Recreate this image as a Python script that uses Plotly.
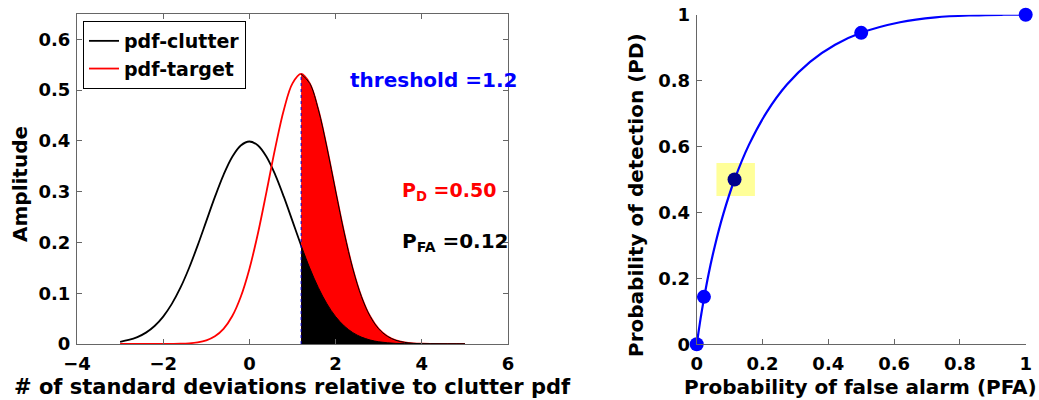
import plotly.graph_objects as go

# ---- left panel data: pdfs ----
pdf_x = [-3.0, -2.8, -2.6, -2.4, -2.2, -2.0, -1.8, -1.6, -1.4, -1.2, -1.0, -0.8, -0.6, -0.4, -0.2,
         0.0, 0.2, 0.4, 0.6, 0.8, 1.0, 1.2, 1.4, 1.6, 1.8, 2.0, 2.2, 2.4, 2.6, 2.8, 3.0,
         3.2, 3.4, 3.6, 3.8, 4.0, 4.2, 4.4, 4.6, 4.8, 5.0]
pdf_clutter = [0.0044, 0.0079, 0.0136, 0.0224, 0.0355, 0.0540, 0.0790, 0.1109, 0.1497, 0.1942,
               0.2420, 0.2897, 0.3332, 0.3683, 0.3910, 0.3989, 0.3910, 0.3683, 0.3332, 0.2897,
               0.2420, 0.1942, 0.1497, 0.1109, 0.0790, 0.0540, 0.0355, 0.0224, 0.0136, 0.0079,
               0.0044, 0.0024, 0.0012, 0.0006, 0.0003, 0.0001, 0.0001, 0.0, 0.0, 0.0, 0.0]
pdf_target = [0.0, 0.0, 0.0, 0.0, 0.0, 0.0, 0.0002, 0.0005, 0.0013, 0.0032,
              0.0072, 0.0152, 0.0298, 0.0546, 0.0931, 0.1479, 0.2187, 0.3012, 0.3862, 0.4614,
              0.5133, 0.5319, 0.5133, 0.4614, 0.3862, 0.3012, 0.2187, 0.1479, 0.0931, 0.0546,
              0.0298, 0.0152, 0.0072, 0.0032, 0.0013, 0.0005, 0.0002, 0.0001, 0.0, 0.0, 0.0]
threshold = 1.2
pd_value = "0.50"
pfa_value = "0.12"

# ---- right panel data: ROC ----
roc_pfa = [0.0, 0.0014, 0.0062, 0.0139, 0.0228, 0.0359, 0.0548, 0.0808, 0.1151, 0.1587, 0.2119,
           0.2743, 0.3446, 0.4207, 0.5, 0.618, 0.726, 0.841, 0.933, 0.977, 1.0]
roc_pd = [0.0, 0.0082, 0.0415, 0.0912, 0.143, 0.212, 0.297, 0.395, 0.5, 0.605, 0.703,
          0.788, 0.857, 0.909, 0.945, 0.977, 0.992, 0.998, 0.9998, 1.0, 1.0]
pt_pfa = [0.0, 0.022, 0.115, 0.5, 1.0]
pt_pd = [0.0, 0.144, 0.5, 0.945, 1.0]
pt_color = ["#0000FF", "#0000FF", "#00008B", "#0000FF", "#0000FF"]
highlight_box = [0.06, 0.177, 0.45, 0.55]  # x0, x1, y0, y1

FONT = "DejaVu Sans"
AX = "#666666"

ti = pdf_x.index(threshold)

fig = go.Figure()
fig.add_trace(go.Scatter(x=pdf_x, y=pdf_clutter, mode="lines", name="pdf-clutter",
                         line=dict(color="black", width=1.8, shape="spline"), xaxis="x", yaxis="y"))
fig.add_trace(go.Scatter(x=pdf_x, y=pdf_target, mode="lines", name="pdf-target",
                         line=dict(color="red", width=1.8, shape="spline"), xaxis="x", yaxis="y"))
fig.add_trace(go.Scatter(x=pdf_x[ti:], y=pdf_target[ti:], mode="lines", fill="tozeroy",
                         fillcolor="red", line=dict(color="black", width=1, shape="spline"),
                         showlegend=False, xaxis="x", yaxis="y"))
fig.add_trace(go.Scatter(x=pdf_x[ti:], y=pdf_clutter[ti:], mode="lines", fill="tozeroy",
                         fillcolor="black", line=dict(color="black", width=1, shape="spline"),
                         showlegend=False, xaxis="x", yaxis="y"))
fig.add_trace(go.Scatter(x=[threshold, threshold], y=[0, pdf_target[ti]], mode="lines",
                         line=dict(color="#0000CC", width=1, dash="dot"),
                         showlegend=False, xaxis="x", yaxis="y"))

fig.add_trace(go.Scatter(x=roc_pfa, y=roc_pd, mode="lines", line=dict(color="#0000FF", width=2.2,
                         shape="spline"), showlegend=False, xaxis="x2", yaxis="y2"))
fig.add_trace(go.Scatter(x=pt_pfa, y=pt_pd, mode="markers", marker=dict(color=pt_color, size=14),
                         cliponaxis=False, showlegend=False, xaxis="x2", yaxis="y2"))

fig.add_shape(type="rect", xref="x2", yref="y2", x0=highlight_box[0], x1=highlight_box[1],
              y0=highlight_box[2], y1=highlight_box[3], fillcolor="#FFFF99", line=dict(width=0),
              layer="below")

tickfont = dict(family=FONT, size=18, color="black", weight="bold")
axcommon = dict(showgrid=False, zeroline=False, showline=True, linecolor=AX, linewidth=1,
                ticks="inside", ticklen=5, tickcolor=AX, tickfont=tickfont, automargin=False)

fig.update_layout(
    width=1039, height=400, margin=dict(l=0, r=0, t=0, b=0, pad=0),
    paper_bgcolor="white", plot_bgcolor="white",
    xaxis=dict(domain=[77/1039, 508/1039], range=[-4, 6], tickvals=[-4, -2, 0, 2, 4, 6],
               mirror="ticks", anchor="y", ticklabelstandoff=3, **axcommon),
    yaxis=dict(domain=[56/400, 386/400], range=[0, 0.65], tickvals=[0, 0.1, 0.2, 0.3, 0.4, 0.5, 0.6],
               mirror="ticks", anchor="x", ticklabelstandoff=2, **axcommon),
    xaxis2=dict(domain=[696.7/1039, 1025.7/1039], range=[0, 1],
                tickvals=[0, 0.2, 0.4, 0.6, 0.8, 1], anchor="y2", ticklabelstandoff=3, **axcommon),
    yaxis2=dict(domain=[55.7/400, 385.3/400], range=[0, 1],
                tickvals=[0, 0.2, 0.4, 0.6, 0.8, 1], anchor="x2", ticklabelstandoff=2, **axcommon),
    legend=dict(x=83/1039, y=(400-21)/400, xanchor="left", yanchor="top",
                bordercolor="black", borderwidth=1, bgcolor="white",
                font=dict(family=FONT, size=19, color="black", weight="bold")),
    showlegend=True,
)

bold = lambda size, color: dict(family=FONT, size=size, color=color, weight="bold")
fig.add_annotation(xref="x", yref="y", x=2.29, y=0.52, xanchor="left", yanchor="middle",
                   text="threshold =1.2", showarrow=False, font=bold(20, "#0000FF"))
fig.add_annotation(xref="x", yref="y", x=3.5, y=0.30, xanchor="left", yanchor="middle",
                   text="P<sub>D</sub> =" + pd_value, showarrow=False, font=bold(19, "red"))
fig.add_annotation(xref="x", yref="y", x=3.5, y=0.20, xanchor="left", yanchor="middle",
                   text="P<sub>FA</sub> =" + pfa_value, showarrow=False, font=bold(20, "black"))
fig.add_annotation(xref="paper", yref="paper", x=292.5/1039, y=(400-387)/400, xanchor="center",
                   yanchor="middle", text="# of standard deviations relative to clutter pdf",
                   showarrow=False, font=bold(21, "black"))
fig.add_annotation(xref="paper", yref="paper", x=860/1039, y=(400-387)/400, xanchor="center",
                   yanchor="middle", text="Probability of false alarm (PFA)",
                   showarrow=False, font=bold(20, "black"))
fig.add_annotation(xref="paper", yref="paper", x=20/1039, y=(400-184)/400, xanchor="center",
                   yanchor="middle", text="Amplitude", textangle=-90,
                   showarrow=False, font=bold(20, "black"))
fig.add_annotation(xref="paper", yref="paper", x=636/1039, y=(400-195)/400, xanchor="center",
                   yanchor="middle", text="Probability of detection (PD)", textangle=-90,
                   showarrow=False, font=bold(20, "black"))

fig.write_html("out.html")
